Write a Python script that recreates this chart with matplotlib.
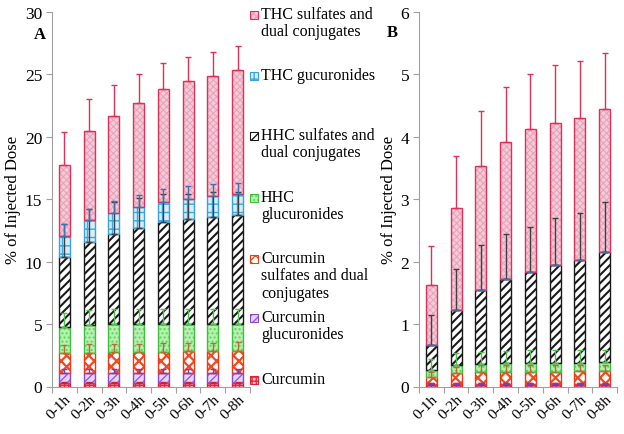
import numpy as np
import matplotlib
matplotlib.use('Agg')
import matplotlib.pyplot as plt
from matplotlib.patches import Rectangle

plt.rcParams['font.family'] = ['Liberation Serif', 'DejaVu Serif']
plt.rcParams['hatch.linewidth'] = 1.0

times = ['0-1h', '0-2h', '0-3h', '0-4h', '0-5h', '0-6h', '0-7h', '0-8h']

labels = ['Curcumin', 'Curcumin\nglucuronides', 'Curcumin\nsulfates and dual\nconjugates',
          'HHC\nglucuronides', 'HHC sulfates and\ndual conjugates', 'THC gucuronides',
          'THC sulfates and\ndual conjugates']

# panel A (stack segments, bottom to top)
a_curc = [0.30, 0.30, 0.30, 0.30, 0.30, 0.30, 0.30, 0.30]
a_curc_gluc = [0.78, 0.78, 0.78, 0.78, 0.78, 0.78, 0.78, 0.78]
a_curc_sulf = [1.57, 1.64, 1.70, 1.70, 1.72, 1.78, 1.78, 1.80]
a_hhc_gluc = [2.13, 2.23, 2.19, 2.19, 2.18, 2.14, 2.14, 2.12]
a_hhc_sulf = [5.62, 6.65, 7.28, 7.73, 8.22, 8.45, 8.55, 8.70]
a_thc_gluc = [1.67, 1.70, 1.68, 1.70, 1.60, 1.61, 1.71, 1.70]
a_thc_sulf = [5.67, 7.17, 7.74, 8.30, 9.00, 9.38, 9.61, 9.95]

a_curc_err = [0.10, 0.10, 0.10, 0.10, 0.10, 0.10, 0.10, 0.10]
a_curc_gluc_err = [0.30, 0.30, 0.30, 0.30, 0.30, 0.30, 0.30, 0.30]
a_curc_sulf_err = [0.70, 0.65, 0.65, 0.65, 0.70, 0.65, 0.65, 0.65]
a_hhc_gluc_err = [1.10, 1.20, 1.20, 1.20, 1.20, 1.20, 1.20, 1.20]
a_hhc_sulf_err = [2.60, 2.60, 2.50, 2.40, 2.20, 2.00, 2.00, 1.90]
a_thc_gluc_err = [0.98, 0.95, 0.93, 0.95, 1.00, 1.01, 0.94, 0.90]
a_thc_sulf_err = [2.66, 2.53, 2.48, 2.30, 2.10, 1.96, 1.93, 1.90]

# panel B
b_curc = [0.03, 0.03, 0.03, 0.03, 0.03, 0.03, 0.03, 0.03]
b_curc_gluc = [0.01, 0.01, 0.01, 0.01, 0.01, 0.01, 0.01, 0.01]
b_curc_sulf = [0.12, 0.18, 0.20, 0.20, 0.20, 0.20, 0.21, 0.21]
b_hhc_gluc = [0.10, 0.12, 0.12, 0.13, 0.14, 0.14, 0.13, 0.14]
b_hhc_sulf = [0.41, 0.89, 1.19, 1.35, 1.45, 1.57, 1.64, 1.76]
b_thc_gluc = [0.00, 0.00, 0.00, 0.00, 0.00, 0.00, 0.00, 0.00]
b_thc_sulf = [0.95, 1.63, 1.98, 2.20, 2.29, 2.27, 2.28, 2.29]

b_curc_err = [0.02, 0.02, 0.02, 0.02, 0.02, 0.02, 0.02, 0.02]
b_curc_gluc_err = [0.01, 0.01, 0.01, 0.01, 0.01, 0.01, 0.01, 0.01]
b_curc_sulf_err = [0.08, 0.10, 0.10, 0.10, 0.10, 0.10, 0.10, 0.10]
b_hhc_gluc_err = [0.18, 0.20, 0.20, 0.20, 0.20, 0.20, 0.20, 0.20]
b_hhc_sulf_err = [0.47, 0.66, 0.71, 0.72, 0.73, 0.75, 0.76, 0.81]
b_thc_gluc_err = [0.00, 0.00, 0.00, 0.00, 0.00, 0.00, 0.00, 0.00]
b_thc_sulf_err = [0.63, 0.84, 0.89, 0.88, 0.88, 0.93, 0.92, 0.91]

# fill, hatch colour, edge colour, hatch, hatch width
styles = [
    ('#f7c9c9', '#e8283c', '#e02030', '++++', 1.0),
    ('#e6d4f7', '#9a5be0', '#8a48d8', '////', 1.0),
    ('#ffffff', '#f04a20', '#f03818', 'xxx', 1.6),
    ('#b8f0b0', '#5cd85c', '#40c040', '....', 1.0),
    ('#ffffff', '#1a1a1a', '#1a1a1a', '////', 1.5),
    ('#d6eefa', '#3aa8e0', '#3aa0e0', '++', 1.0),
    ('#f5cbd8', '#e8a4bb', '#e0305a', 'xxxxx', 0.8),
]
err_colors = ['#d02030', '#7040c0', '#b07030', '#50c050', '#404040', '#4070b0', '#e0305a']

fig = plt.figure(figsize=(6.24, 4.35), dpi=100)
ax_a = fig.add_axes([52 / 624, 1 - 387.5 / 435, 198 / 624, 374.5 / 435])
ax_b = fig.add_axes([419 / 624, 1 - 387.5 / 435, 198 / 624, 374.5 / 435])

x = np.arange(len(times))
width = 0.44


def draw_stack(ax, segs, errs):
    bottom = np.zeros(len(times))
    tops = []
    for vals, (fc, hc, ec, hatch, hw) in zip(segs, styles):
        vals = np.array(vals)
        with plt.rc_context({'hatch.linewidth': hw}):
            ax.bar(x, vals, width, bottom=bottom, color=fc, edgecolor=hc, hatch=hatch,
                   linewidth=0, zorder=2)
        ax.bar(x, vals, width, bottom=bottom, fill=False, edgecolor=ec, linewidth=1.0, zorder=3)
        bottom = bottom + vals
        tops.append(bottom.copy())
    for top, err, c in zip(tops, errs, err_colors):
        err = np.array(err)
        ax.errorbar(x, top, yerr=[np.zeros_like(err), err], fmt='none', ecolor=c,
                    elinewidth=1.0, capsize=2, capthick=1.0, zorder=4)


draw_stack(ax_a, [a_curc, a_curc_gluc, a_curc_sulf, a_hhc_gluc, a_hhc_sulf, a_thc_gluc, a_thc_sulf],
           [a_curc_err, a_curc_gluc_err, a_curc_sulf_err, a_hhc_gluc_err, a_hhc_sulf_err,
            a_thc_gluc_err, a_thc_sulf_err])
draw_stack(ax_b, [b_curc, b_curc_gluc, b_curc_sulf, b_hhc_gluc, b_hhc_sulf, b_thc_gluc, b_thc_sulf],
           [b_curc_err, b_curc_gluc_err, b_curc_sulf_err, b_hhc_gluc_err, b_hhc_sulf_err,
            b_thc_gluc_err, b_thc_sulf_err])

for ax, ymax, step in [(ax_a, 30, 5), (ax_b, 6, 1)]:
    ax.set_xlim(-0.5, len(times) - 0.5)
    ax.set_ylim(0, ymax)
    ax.set_yticks(np.arange(0, ymax + 0.1, step))
    ax.set_xticks(np.arange(-0.5, len(times)), labels=[''] * (len(times) + 1))
    ax.set_xticks(x, labels=times, minor=True)
    ax.tick_params(axis='x', which='major', length=4, color='#a0a0a0')
    ax.tick_params(axis='x', which='minor', length=0, pad=4, labelsize=11)
    ax.tick_params(axis='y', length=4, color='#a0a0a0', labelsize=12.5, pad=3)
    for lab in ax.get_xticklabels(minor=True):
        lab.set_rotation(45)
        lab.set_ha('right')
        lab.set_rotation_mode('anchor')
    for s in ['top', 'right']:
        ax.spines[s].set_visible(False)
    for s in ['left', 'bottom']:
        ax.spines[s].set_color('#a0a0a0')
    ax.set_ylabel('% of Injected Dose', fontsize=12)

ax_a.yaxis.set_label_coords(-0.155, 0.5)
ax_b.yaxis.set_label_coords(-0.11, 0.5)

fig.text(40 / 624, 1 - 35 / 435, 'A', fontsize=12, fontweight='bold', ha='center', va='center')
fig.text(392 / 624, 1 - 33 / 435, 'B', fontsize=12, fontweight='bold', ha='center', va='center')

# legend, top entry first
centers = [16, 77, 137, 199, 260, 319, 381]
for i, (lab, (fc, hc, ec, hatch, hw)) in enumerate(zip(labels[::-1], styles[::-1])):
    yc = centers[i]
    fig.add_artist(Rectangle((250 / 624, 1 - (yc + 4) / 435), 8 / 624, 8 / 435,
                             transform=fig.transFigure, facecolor=fc, edgecolor=hc, hatch=hatch,
                             linewidth=0))
    fig.add_artist(Rectangle((250 / 624, 1 - (yc + 4) / 435), 8 / 624, 8 / 435,
                             transform=fig.transFigure, fill=False, edgecolor=ec, linewidth=0.8))
    fig.text(261 / 624, 1 - (yc - 9) / 435, lab, fontsize=11.5, ha='left', va='top',
             linespacing=1.12)

fig.savefig('out.png', dpi=100)
